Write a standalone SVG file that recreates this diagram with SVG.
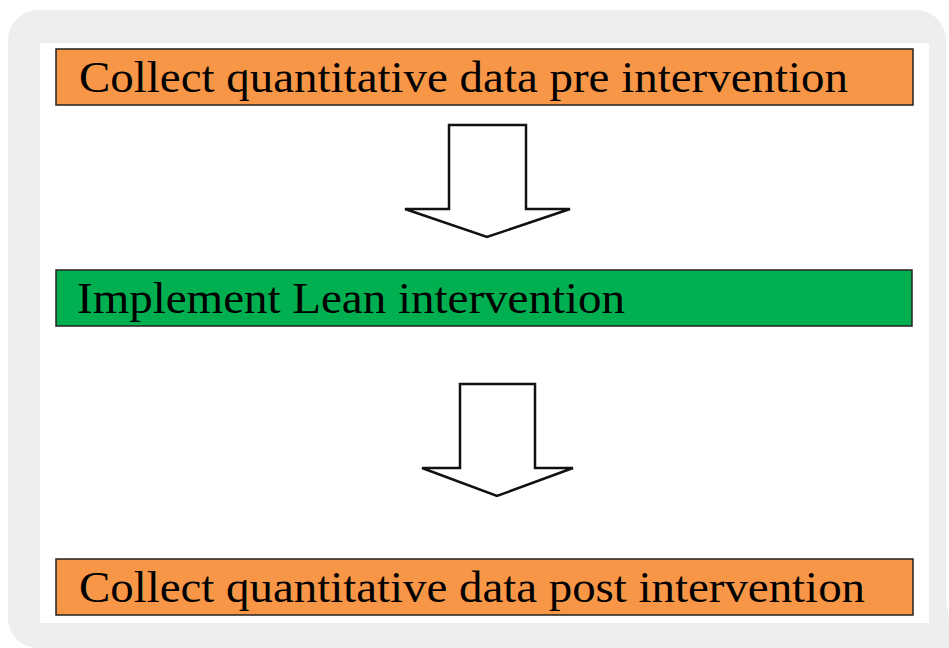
<svg xmlns="http://www.w3.org/2000/svg" width="949" height="648" viewBox="0 0 949 648">
<style>
.box{stroke:#222;stroke-width:1.5}
.orange{fill:#F79646}
.green{fill:#00B050}
.t{font-family:"Liberation Serif","Times New Roman",serif;font-size:44px;fill:#000}
.arrow{fill:#fff;stroke:#111;stroke-width:2.5;stroke-linejoin:miter}
</style>
<path d="M38 10 H916 A30 30 0 0 1 946 40 V600 L949 620 V648 H38 A30 30 0 0 1 8 618 V40 A30 30 0 0 1 38 10 Z" fill="#EEEEEE"/>
<rect x="40" y="43" width="889" height="580" fill="#fff"/>
<g id="node-pre">
<rect class="box orange" x="56" y="49" width="857" height="56"/>
<text class="t" x="79" y="92" textLength="769" lengthAdjust="spacingAndGlyphs">Collect quantitative data pre intervention</text>
</g>
<g id="node-lean">
<rect class="box green" x="56" y="270" width="856" height="56"/>
<text class="t" x="77" y="313" textLength="548" lengthAdjust="spacingAndGlyphs">Implement Lean intervention</text>
</g>
<g id="node-post">
<rect class="box orange" x="56" y="559" width="857" height="56"/>
<text class="t" x="79" y="602" textLength="786" lengthAdjust="spacingAndGlyphs">Collect quantitative data post intervention</text>
</g>
<g id="connectors">
<path class="arrow" d="M449 125 H526 V209 H570 L487 237 L405 209 H449 Z"/>
<path class="arrow" d="M460 384 H535 V468 H573 L497 496 L422 468 H460 Z"/>
</g>
</svg>
